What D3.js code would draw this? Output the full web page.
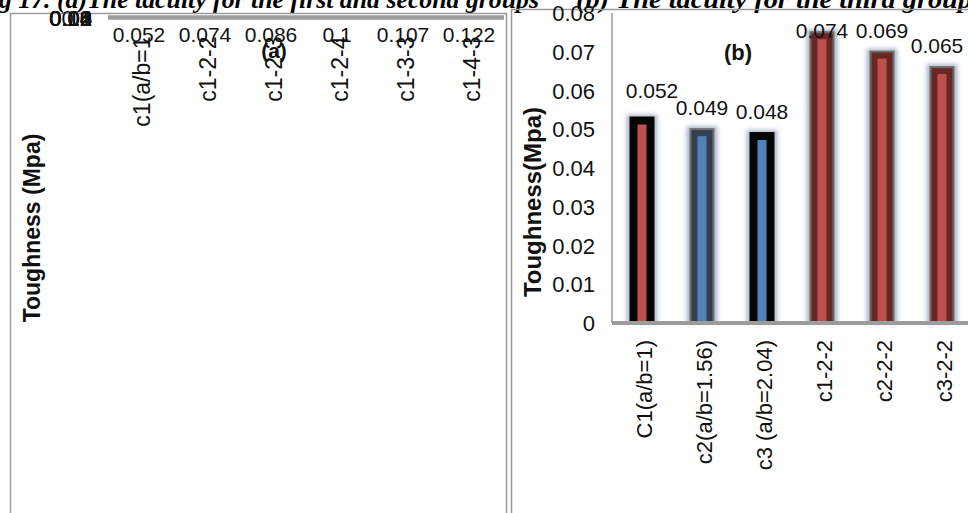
<!DOCTYPE html>
<html><head><meta charset="utf-8">
<script src="https://cdn.jsdelivr.net/npm/d3@7"></script>
<style>body{margin:0;background:#fff;overflow:hidden}svg{display:block}</style>
</head><body>
<svg id="c" width="968" height="513"></svg>
<script>
// ---- data ----
const captionA = "g 17. (a)The tacuity for the first and second groups";
const captionB = "(b) The tacuity for the third group";

const categoriesA = ["c1(a/b=1", "c1-2-2", "c1-2-3", "c1-2-4", "c1-3-3", "c1-4-3"];
const valuesA = [0.052, 0.074, 0.086, 0.1, 0.107, 0.122];
const ticksA = [0, 0.02, 0.04, 0.06, 0.08, 0.1, 0.12, 0.14];
const ticksALabels = ["0", "0.02", "0.04", "0.06", "0.08", "0.1", "0.12", "0.14"];

const categoriesB = ["C1(a/b=1)", "c2(a/b=1.56)", "c3 (a/b=2.04)", "c1-2-2", "c2-2-2", "c3-2-2"];
const valuesB = [0.052, 0.049, 0.048, 0.074, 0.069, 0.065];
const ticksB = [0, 0.01, 0.02, 0.03, 0.04, 0.05, 0.06, 0.07, 0.08];
const ticksBLabels = ["0", "0.01", "0.02", "0.03", "0.04", "0.05", "0.06", "0.07", "0.08"];

// ---- styles (per bar in panel b) ----
const fillB  = ["#c0504d", "#4f81bd", "#4f81bd", "#c0504d", "#c0504d", "#c0504d"];
const ringB  = ["#050505", "#34404e", "#050505", "#682826", "#682826", "#682826"];
const outerB = ["#080808", "#707070", "#080808", "#6c6c6c", "#6c6c6c", "#6c6c6c"];
// label nudges (px) for panel b value labels
const labelDx = [10, 0, 0, 0, 0, -5];
const labelDy = [-6, 0, 0, 0, 0, 0];

const FONT = "'Liberation Sans', Arial, Helvetica, sans-serif";
const svg = d3.select("#c");

const defs = svg.append("defs");
const glow = defs.append("filter").attr("id", "glow")
  .attr("x", "-60%").attr("y", "-20%").attr("width", "220%").attr("height", "140%");
glow.append("feGaussianBlur").attr("stdDeviation", 2.2);

// ---- caption (cut at top) ----
svg.append("text").attr("x", -1).attr("y", 8)
  .attr("font-family", "'Liberation Serif', 'Times New Roman', serif")
  .attr("font-weight", "bold").attr("font-style", "italic").attr("font-size", 26)
  .attr("textLength", 540).attr("lengthAdjust", "spacingAndGlyphs")
  .text(captionA);
svg.append("text").attr("x", 576).attr("y", 8)
  .attr("font-family", "'Liberation Serif', 'Times New Roman', serif")
  .attr("font-weight", "bold").attr("font-style", "italic").attr("font-size", 26)
  .attr("textLength", 396).attr("lengthAdjust", "spacingAndGlyphs")
  .text(captionB);

// ---- panel frames ----
svg.append("rect").attr("x", 10.5).attr("y", 13.5).attr("width", 496).attr("height", 600)
  .attr("fill", "none").attr("stroke", "#9a9a9a").attr("stroke-width", 1.5);
svg.append("rect").attr("x", 511.5).attr("y", 9.5).attr("width", 600).attr("height", 600)
  .attr("fill", "none").attr("stroke", "#9a9a9a").attr("stroke-width", 1.5);

// ================= Panel (a): collapsed plot area =================
const xA = d3.scaleBand().domain(categoriesA).range([108, 504]);
const yA = d3.scaleLinear().domain([0, 0.14]).range([17.5, 17.5]);
const gA = svg.append("g");

gA.selectAll("rect.barA").data(valuesA).join("rect").attr("class", "barA")
  .attr("x", (d, i) => xA(categoriesA[i]) + xA.bandwidth() / 2 - 8)
  .attr("width", 16)
  .attr("y", d => yA(d)).attr("height", d => yA(0) - yA(d))
  .attr("fill", "#c0504d");

gA.append("line").attr("x1", xA.range()[0]).attr("x2", xA.range()[1])
  .attr("y1", yA(0)).attr("y2", yA(0))
  .attr("stroke", "#9c9c9c").attr("stroke-width", 4.5);

gA.selectAll("text.tickA").data(ticksA).join("text").attr("class", "tickA")
  .attr("x", 92).attr("y", d => yA(d) + 8)
  .attr("text-anchor", "end").attr("font-family", FONT).attr("font-size", 22).attr("fill", "#111")
  .text((d, i) => ticksALabels[i]);

gA.selectAll("text.valA").data(valuesA).join("text").attr("class", "valA")
  .attr("x", (d, i) => xA(categoriesA[i]) + xA.bandwidth() / 2 - 2)
  .attr("y", d => yA(d) + 24)
  .attr("text-anchor", "middle").attr("font-family", FONT).attr("font-size", 21).attr("fill", "#111")
  .text(d => String(d));

gA.selectAll("text.catA").data(categoriesA).join("text").attr("class", "catA")
  .attr("transform", d => `translate(${xA(d) + xA.bandwidth() / 2 + 9},${yA(0) + 19}) rotate(-90)`)
  .attr("text-anchor", "end").attr("font-family", FONT).attr("font-size", 23).attr("fill", "#111")
  .text(d => d);

gA.append("text").attr("x", 274).attr("y", 58).attr("text-anchor", "middle")
  .attr("font-family", FONT).attr("font-weight", "bold").attr("font-size", 21).attr("fill", "#111")
  .text("(a)");

gA.append("text").attr("transform", "translate(40,228) rotate(-90)").attr("text-anchor", "middle")
  .attr("font-family", FONT).attr("font-weight", "bold").attr("font-size", 23).attr("fill", "#111")
  .text("Toughness (Mpa)");

// ================= Panel (b) =================
const xB = d3.scaleBand().domain(categoriesB).range([612, 972]);
const yB = d3.scaleLinear().domain([0, 0.08]).range([323, 13]);
const gB = svg.append("g");

defs.append("clipPath").attr("id", "clipB").append("rect")
  .attr("x", 600).attr("y", 0).attr("width", 400).attr("height", yB(0));

const bars = gB.append("g").attr("clip-path", "url(#clipB)")
  .selectAll("g.bar").data(valuesB).join("g").attr("class", "bar");
const cx = i => xB(categoriesB[i]) + xB.bandwidth() / 2;
bars.append("rect")
  .attr("x", (d, i) => cx(i) - 8.5).attr("width", 17)
  .attr("y", d => yB(d)).attr("height", d => yB(0) - yB(d) + 10)
  .attr("fill", "none").attr("stroke", "#6a7f9f").attr("stroke-opacity", 0.55)
  .attr("stroke-width", 14).attr("filter", "url(#glow)");
bars.append("rect")
  .attr("x", (d, i) => cx(i) - 7.5).attr("width", 15)
  .attr("y", d => yB(d)).attr("height", d => yB(0) - yB(d) + 10)
  .attr("fill", "none").attr("stroke", (d, i) => outerB[i]).attr("stroke-width", 10);
bars.append("rect")
  .attr("x", (d, i) => cx(i) - 7.5).attr("width", 15)
  .attr("y", d => yB(d)).attr("height", d => yB(0) - yB(d) + 10)
  .attr("fill", (d, i) => fillB[i]).attr("stroke", (d, i) => ringB[i]).attr("stroke-width", 6);

// axes
gB.append("line").attr("x1", 612).attr("x2", 612).attr("y1", yB(0.08)).attr("y2", yB(0))
  .attr("stroke", "#9a9a9a").attr("stroke-width", 1.5);
gB.append("line").attr("x1", 612).attr("x2", 972).attr("y1", yB(0)).attr("y2", yB(0))
  .attr("stroke", "#9c9c9c").attr("stroke-width", 4);

gB.selectAll("text.tickB").data(ticksB).join("text").attr("class", "tickB")
  .attr("x", 595).attr("y", d => yB(d) + 8)
  .attr("text-anchor", "end").attr("font-family", FONT).attr("font-size", 22).attr("fill", "#111")
  .text((d, i) => ticksBLabels[i]);

gB.selectAll("text.valB").data(valuesB).join("text").attr("class", "valB")
  .attr("x", (d, i) => cx(i) + labelDx[i])
  .attr("y", (d, i) => Math.max(yB(d) - 18, 38) + labelDy[i])
  .attr("text-anchor", "middle").attr("font-family", FONT).attr("font-size", 21).attr("fill", "#111")
  .text(d => String(d));

gB.selectAll("text.catB").data(categoriesB).join("text").attr("class", "catB")
  .attr("transform", (d, i) => `translate(${cx(i) + 10},${yB(0) + 17}) rotate(-90)`)
  .attr("text-anchor", "end").attr("font-family", FONT).attr("font-size", 22).attr("fill", "#111")
  .text(d => d);

gB.append("text").attr("x", 738).attr("y", 60).attr("text-anchor", "middle")
  .attr("font-family", FONT).attr("font-weight", "bold").attr("font-size", 22).attr("fill", "#111")
  .text("(b)");

gB.append("text").attr("transform", "translate(541,202) rotate(-90)").attr("text-anchor", "middle")
  .attr("font-family", FONT).attr("font-weight", "bold").attr("font-size", 24).attr("fill", "#111")
  .text("Toughness(Mpa)");
</script>
</body></html>
